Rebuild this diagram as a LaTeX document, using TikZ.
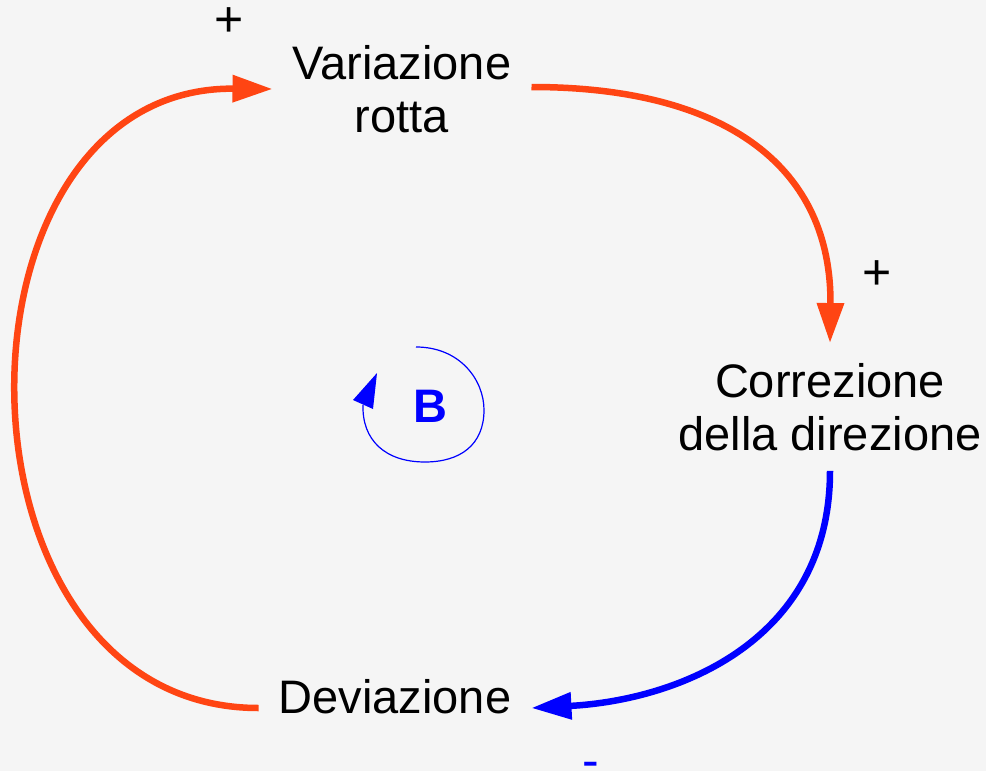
\documentclass[tikz,border=0pt]{standalone}
\usepackage{fontspec}
\setmainfont{Liberation Sans}
\usetikzlibrary{arrows.meta}

\definecolor{bgcol}{HTML}{F5F5F5}
\definecolor{loopred}{HTML}{FF4513}
\definecolor{loopblue}{HTML}{0000FF}

\begin{document}
\begin{tikzpicture}[x=1pt,y=-1pt,
    var/.style={align=center,inner sep=20pt,font=\fontsize{47}{53}\selectfont},
    sign/.style={inner sep=0pt,font=\fontsize{50}{50}\selectfont},
    link/.style={line width=6.5pt,-{Triangle[length=40pt,width=26pt]}}]
  \fill[bgcol] (0,0) rectangle (986,771);
  \useasboundingbox (0,0) rectangle (986,771);
  % variables
  \node[var] (rotta) at (402,89) {Variazione\\rotta};
  \node[var] (corr) at (830,407) {Correzione\\della direzione};
  \node[var] (dev) at (395,697) {Deviazione};
  % polarities
  \node[sign] (prot) at (229,22) {+};
  \node[sign] (pcorr) at (877,275) {+};
  \node[sign,text=loopblue] (mdev) at (591,770) {-};
  % links
  \draw[link,loopred] ([yshift=2pt]rotta.east) .. controls (730,87) and (832,170) .. (corr.north);
  \draw[link,loopblue] (corr.south) .. controls (830,640) and (680,700) .. ([yshift=-11pt]dev.east);
  \draw[link,loopred] ([yshift=-11pt]dev.west) .. controls (-62,708) and (-64,86) .. (rotta.west);
  % loop symbol
  \draw[loopblue,line width=1.2pt] (416,347) .. controls (460,347) and (484,380) .. (484,410)
    .. controls (484,445) and (460,462) .. (425,462) .. controls (385,462) and (362,440) .. (363,405);
  \fill[loopblue] (353,400) -- (377,373) -- (373,409) -- cycle;
  \node[sign,text=loopblue,font=\fontsize{47}{47}\selectfont\bfseries] (bal) at (430,406) {B};
\end{tikzpicture}
\end{document}
